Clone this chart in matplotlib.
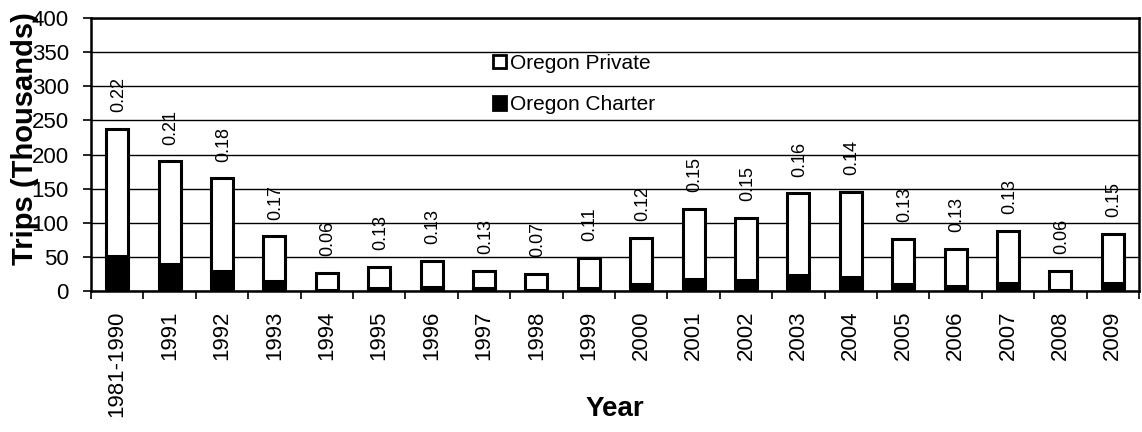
import matplotlib
matplotlib.use("Agg")
import matplotlib.pyplot as plt
from matplotlib.patches import Patch

plt.rcParams['font.family'] = ['Liberation Sans', 'DejaVu Sans']

# data (thousands of trips)
years = ["1981-1990", "1991", "1992", "1993", "1994", "1995", "1996", "1997",
         "1998", "1999", "2000", "2001", "2002", "2003", "2004", "2005",
         "2006", "2007", "2008", "2009"]
charter = [52, 40, 30, 14, 2, 5, 6, 4, 2, 5, 10, 18, 16, 23, 21, 10, 8, 12, 2, 12]
total = [238, 190, 165, 80, 27, 35, 44, 30, 25, 49, 78, 120, 107, 143, 145,
         76, 62, 88, 30, 84]
private = [t - c for t, c in zip(total, charter)]
ratios = ["0.22", "0.21", "0.18", "0.17", "0.06", "0.13", "0.13", "0.13",
          "0.07", "0.11", "0.12", "0.15", "0.15", "0.16", "0.14", "0.13",
          "0.13", "0.13", "0.06", "0.15"]

fig = plt.figure(figsize=(11.42, 4.32), dpi=100)
ax = fig.add_axes([0.0797, 0.3264, 0.9177, 0.6319])

x = list(range(len(years)))
w = 0.42
ax.set_axisbelow(True)
ax.yaxis.grid(True, color='black', linewidth=1.0)

ax.bar(x, charter, width=w, color='black', edgecolor='black', linewidth=2.2,
       zorder=3)
ax.bar(x, private, width=w, bottom=charter, color='white', edgecolor='black',
       linewidth=2.2, zorder=3)

for i in x:
    ax.annotate(ratios[i], (i, total[i]), xytext=(1, 12),
                textcoords='offset points', rotation=90, ha='center',
                va='bottom', fontsize=13)

ax.set_xlim(-0.5, len(years) - 0.5)
ax.set_ylim(0, 400)
ax.set_yticks(range(0, 401, 50))
ax.tick_params(axis='y', labelsize=16, length=6, width=1.2, pad=10)

ax.set_xticks(x)
ax.set_xticklabels(years, rotation=90, fontsize=16)
ax.tick_params(axis='x', which='major', length=0, pad=14)
ax.set_xticks([i - 0.5 for i in x] + [len(years) - 0.5], minor=True)
ax.tick_params(axis='x', which='minor', length=6, width=1.2)

for s in ax.spines.values():
    s.set_linewidth(1.8)

ax.set_ylabel("Trips (Thousands)", fontsize=21, fontweight='bold')
ax.yaxis.set_label_coords(-0.05, 0.56)
ax.set_xlabel("Year", fontsize=20, fontweight='bold')
ax.xaxis.set_label_coords(0.5, -0.385)

handles = [Patch(facecolor='white', edgecolor='black', linewidth=2.0),
           Patch(facecolor='black', edgecolor='black', linewidth=2.0)]
ax.legend(handles, ["Oregon Private", "Oregon Charter"], loc='upper left',
          bbox_to_anchor=(0.384, 0.87), frameon=False, fontsize=15,
          handlelength=0.6, handleheight=0.6, handletextpad=0.2,
          labelspacing=1.1, borderpad=0, borderaxespad=0)

fig.savefig("out.png", dpi=100)
